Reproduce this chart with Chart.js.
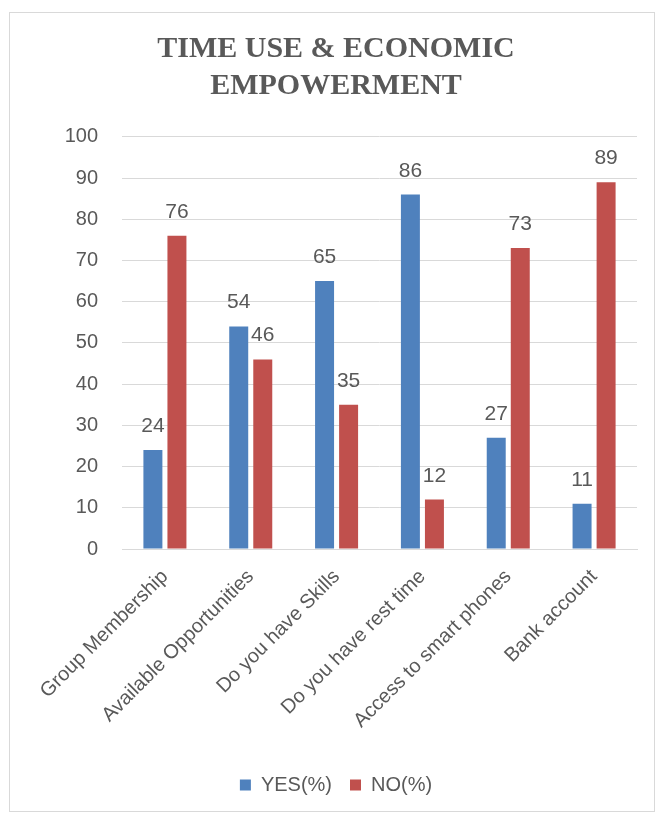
<!DOCTYPE html>
<html>
<head>
<meta charset="utf-8">
<script src="https://cdn.jsdelivr.net/npm/chart.js@4/dist/chart.umd.min.js"></script>
<style>
  html, body { margin: 0; padding: 0; background: #ffffff; }
  #wrap { position: absolute; left: 9px; top: 12px; width: 646px; height: 800px; border: 1px solid #d9d9d9; box-sizing: border-box; }
  canvas { display: block; }
</style>
</head>
<body>
<div id="wrap"><canvas id="c" width="644" height="798"></canvas></div>
<script>
const categories = ["Group Membership", "Available Opportunities", "Do you have Skills", "Do you have rest time", "Access to smart phones", "Bank account"];
const yesValues = [24, 54, 65, 86, 27, 11];
const noValues = [76, 46, 35, 12, 73, 89];
const seriesNames = ["YES(%)", "NO(%)"];
const titleLines = ["TIME USE & ECONOMIC", "EMPOWERMENT"];

const labelPlugin = {
  id: 'valueLabels',
  afterDatasetsDraw(chart) {
    const ctx = chart.ctx;
    ctx.save();
    ctx.font = '21px "Liberation Sans", sans-serif';
    ctx.fillStyle = '#595959';
    ctx.textAlign = 'center';
    ctx.textBaseline = 'alphabetic';
    chart.data.datasets.forEach((ds, i) => {
      const meta = chart.getDatasetMeta(i);
      meta.data.forEach((el, j) => {
        ctx.fillText(String(ds.data[j]), el.x, el.y - 18);
      });
    });
    ctx.restore();
  }
};

new Chart(document.getElementById('c'), {
  type: 'bar',
  data: {
    labels: categories,
    datasets: [
      { label: seriesNames[0], data: yesValues, backgroundColor: '#4F81BD' },
      { label: seriesNames[1], data: noValues, backgroundColor: '#C0504D' }
    ]
  },
  options: {
    responsive: false,
    animation: false,
    categoryPercentage: 0.56,
    barPercentage: 0.79,
    layout: { padding: { left: 25, right: 17, top: 18, bottom: 6 } },
    plugins: {
      title: {
        display: true,
        text: titleLines,
        color: '#595959',
        font: { family: '"Liberation Serif", serif', size: 30, weight: 'bold', lineHeight: 1.23 },
        padding: { top: 0, bottom: 32 }
      },
      legend: {
        position: 'bottom',
        labels: {
          color: '#595959',
          font: { family: '"Liberation Sans", sans-serif', size: 20 },
          boxWidth: 11, boxHeight: 11, padding: 18
        }
      },
      tooltip: { enabled: false }
    },
    scales: {
      x: {
        grid: { display: false },
        border: { display: true, color: '#d9d9d9' },
        ticks: {
          color: '#595959',
          font: { family: '"Liberation Sans", sans-serif', size: 20 },
          maxRotation: 45, minRotation: 45, padding: 8
        },
        afterFit(scale) { scale.height = 208; }
      },
      y: {
        min: 0, max: 100,
        grid: { color: '#d9d9d9', drawTicks: false },
        border: { display: false },
        ticks: {
          stepSize: 10,
          color: '#595959',
          font: { family: '"Liberation Sans", sans-serif', size: 20 },
          padding: 24
        },
        afterFit(scale) { scale.width = 87; }
      }
    }
  },
  plugins: [labelPlugin]
});
</script>
</body>
</html>
